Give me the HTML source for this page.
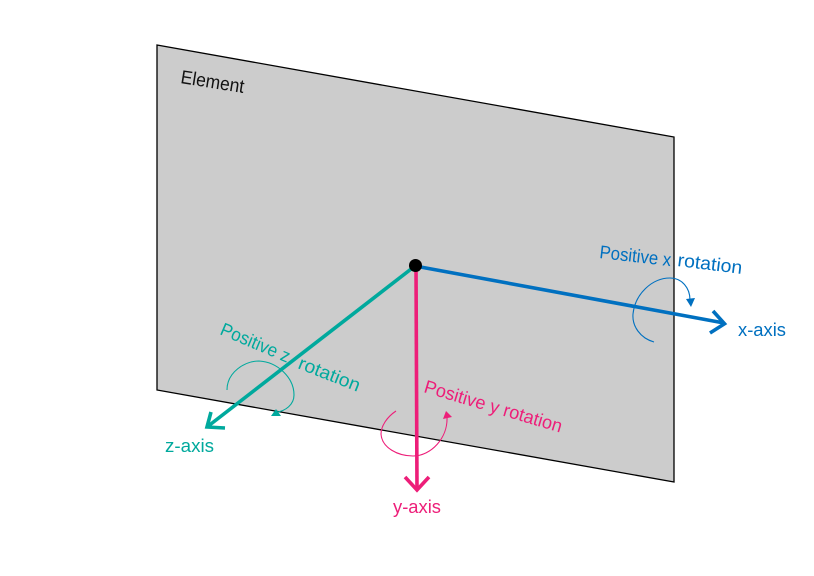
<!DOCTYPE html>
<html>
<head>
<meta charset="utf-8">
<style>
html,body{margin:0;padding:0;background:#fff;width:814px;height:576px;overflow:hidden}
svg{display:block}
text{font-family:"Liberation Sans",sans-serif}
</style>
</head>
<body>
<svg width="814" height="576" viewBox="0 0 814 576" xmlns="http://www.w3.org/2000/svg">
<polygon points="157,45 674,137 674,482 157,390" fill="#cccccc" stroke="#000" stroke-width="1.3"/>

<text transform="translate(180,83) rotate(9)" font-size="19" fill="#111" textLength="64" lengthAdjust="spacingAndGlyphs">Element</text>

<g fill="none" stroke="#0070c0">
<path d="M415,266 L724,323" stroke-width="3.6"/>
<path d="M713,311 L724.500,323.800 L710,333" stroke-width="3.6"/>
<path d="M654,342 C640,338 632,326 633,314 C635,294 652,278 670,278 C682,278 690,288 690,300" stroke-width="1.1"/>
</g>
<polygon points="686,299 695,298 691,307" fill="#0070c0"/>
<text transform="translate(599,258) rotate(6.500)" font-size="18.500" fill="#0070c0" textLength="72" lengthAdjust="spacingAndGlyphs">Positive x</text>
<text transform="translate(677,266) rotate(7)" font-size="18.500" fill="#0070c0" textLength="65" lengthAdjust="spacingAndGlyphs">rotation</text>
<text x="738" y="336" font-size="18.500" fill="#0070c0" textLength="48" lengthAdjust="spacingAndGlyphs">x-axis</text>

<g fill="none" stroke="#00a99d">
<path d="M415,266 L207,427" stroke-width="3.600"/>
<path d="M211,412 L207,427 L225,428" stroke-width="3.600"/>
<path d="M227,390 C227,372 245,361 259,361 C278,362 294,378 294,395 C294,405 285,411 277,412" stroke-width="1.100"/>
</g>
<polygon points="271,416 281,416 276,409" fill="#00a99d"/>
<text transform="translate(219,334) rotate(23)" font-size="18.500" fill="#00a99d" textLength="74" lengthAdjust="spacingAndGlyphs">Positive z</text>
<text transform="translate(297,368) rotate(21.500)" font-size="18.500" fill="#00a99d" textLength="65" lengthAdjust="spacingAndGlyphs">rotation</text>
<text x="165" y="452" font-size="18.500" fill="#00a99d" textLength="49" lengthAdjust="spacingAndGlyphs">z-axis</text>

<g fill="none" stroke="#ed1e79">
<path d="M416,266 L417,490" stroke-width="3.600"/>
<path d="M405,477 L417,490 L429,477" stroke-width="3.600"/>
<path d="M396,411 C387,417 381,426 381,434 C382,448 398,456 413,456 C431,456 448,438 447,417" stroke-width="1.100"/>
</g>
<polygon points="443,419 452,417 446,411" fill="#ed1e79"/>
<text transform="translate(423,392) rotate(16.500)" font-size="18.500" fill="#ed1e79" textLength="143" lengthAdjust="spacingAndGlyphs">Positive y rotation</text>
<text x="393" y="513" font-size="18.500" fill="#ed1e79" textLength="48" lengthAdjust="spacingAndGlyphs">y-axis</text>

<circle cx="415.500" cy="265.500" r="6.500" fill="#000"/>
</svg>
</body>
</html>
